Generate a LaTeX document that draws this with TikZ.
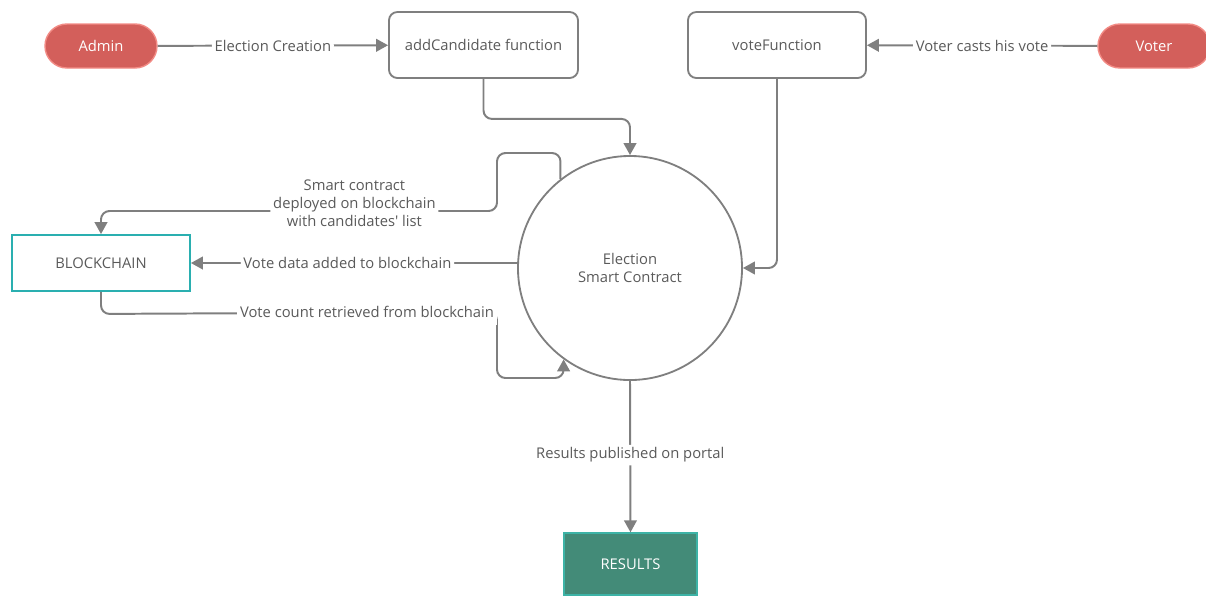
\documentclass[tikz,border=0pt]{standalone}
\usepackage{fontspec}
\setmainfont{Open Sans}
\usetikzlibrary{arrows.meta}

\definecolor{linegray}{HTML}{7F7F7F}
\definecolor{textgray}{HTML}{5A5A5A}
\definecolor{actorred}{HTML}{D35F5B}
\definecolor{actorrim}{HTML}{F28B85}
\definecolor{chainteal}{HTML}{2AAFB0}
\definecolor{resultgreen}{HTML}{438B78}
\definecolor{resultrim}{HTML}{3DB3A6}

\begin{document}
\begin{tikzpicture}[
  x=0.025cm,
  y=-0.025cm,
  font=\fontsize{10.5}{13}\selectfont,
  text=textgray,
  actor/.style={
    rectangle,
    rounded corners=0.55cm,
    fill=actorred,
    draw=actorrim,
    line width=1pt,
    text=white,
    minimum width=2.8cm,
    minimum height=1.1cm
  },
  func/.style={
    rectangle,
    rounded corners=6pt,
    draw=linegray,
    line width=1.3pt,
    minimum height=1.65cm
  },
  flow/.style={
    draw=linegray,
    line width=1.4pt,
    rounded corners=6pt,
    -{Triangle[length=8.5pt,width=9pt]}
  },
  lbl/.style={
    fill=white,
    inner sep=2pt,
    align=center
  },
]
\useasboundingbox (0,0) rectangle (1206,595);

% actors
\node[actor] (admin) at (101,46) {Admin};
\node[actor] (voter) at (1154,46) {Voter};

% functions of the contract
\node[func, minimum width=4.725cm] (addcand) at (483.5,45) {addCandidate function};
\node[func, minimum width=4.45cm] (votefn) at (777,45) {voteFunction};

% contract, chain and output
\node[circle, draw=linegray, line width=1.3pt, minimum size=5.6cm, align=center]
  (contract) at (630,268) {Election\\Smart Contract};
\node[rectangle, draw=chainteal, line width=1.3pt, minimum width=4.45cm,
  minimum height=1.4cm] (chain) at (101,263) {BLOCKCHAIN};
\node[rectangle, fill=resultgreen, draw=resultrim, line width=1pt, text=white,
  minimum width=3.325cm, minimum height=1.55cm] (results) at (630.5,564) {RESULTS};

% connectors
\draw[flow] (admin) -- node[lbl]{Election Creation} (addcand);
\draw[flow] (voter) -- node[lbl]{Voter casts his vote} (votefn);
\draw[flow] (addcand.south) -- ++(0,40) -| (contract.north);
\draw[flow] (votefn.south) |- (contract.east);
\draw[flow] (contract.128) |- (497,153) -- (497,211)
  -- node[lbl, pos=0.36, yshift=0.2cm]{Smart contract\\deployed on blockchain\\with candidates\textquotesingle\ list} (101,211)
  -- (chain.north);
\draw[flow] (contract.west |- chain) -- node[lbl, pos=0.52]{Vote data added to blockchain} (chain.east);
\draw[flow] (chain.south) -- ++(0,22) -- (497,312) -- (497,378) -| (contract.234);
\node[lbl, inner ysep=5pt] (countlbl) at (367,312) {Vote count retrieved from blockchain};
\draw[flow] (contract.south) -- node[lbl, pos=0.49]{Results published on portal} (results.north);
\end{tikzpicture}
\end{document}
